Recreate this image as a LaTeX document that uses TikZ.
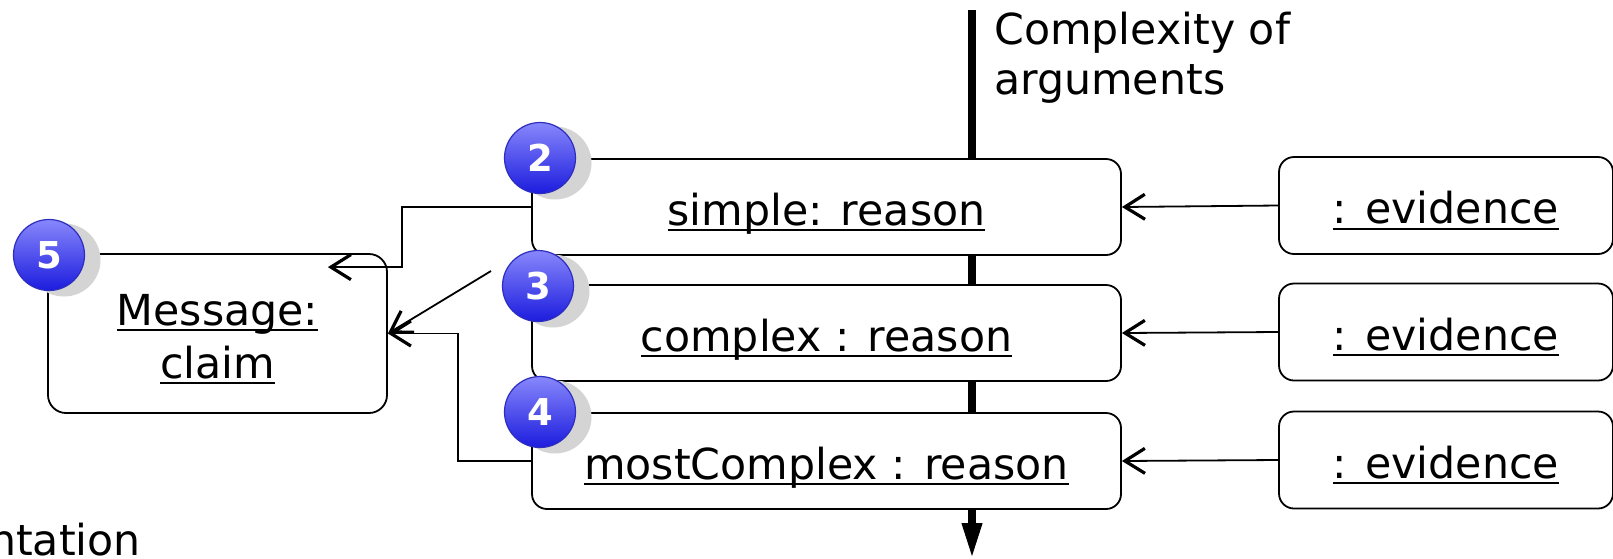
\documentclass[tikz,border=0pt]{standalone}
\usepackage{fontspec}
\setmainfont{DejaVu Sans}
\usetikzlibrary{arrows.meta,calc}
\newcommand\uln[1]{\setbox0\hbox{#1}\rlap{\rule[-6pt]{\wd0}{2pt}}\box0}
\definecolor{badgetop}{RGB}{135,135,252}
\definecolor{badgebot}{RGB}{28,28,222}
\definecolor{badgeline}{RGB}{45,45,190}
\definecolor{shadowgray}{RGB}{212,212,212}
\begin{document}
\begin{tikzpicture}[x=1pt,y=-1pt,
  every node/.style={font=\fontsize{42.7}{53}\selectfont, inner sep=0pt},
  objbox/.style={draw=black, line width=1.8pt, rounded corners=15pt, fill=white, text height=36pt, text depth=0pt},
  reasonbox/.style={objbox, minimum width=589pt, minimum height=96pt},
  evbox/.style={objbox, minimum width=334pt, minimum height=97pt},
  conn/.style={line width=1.8pt, -{Straight Barb[length=20pt,width=25pt,line width=3.2pt]}},
  badge/.style={circle, minimum size=71pt, top color=badgetop, bottom color=badgebot, draw=badgeline, line width=1.2pt, text=white, font=\fontsize{37}{37}\selectfont\bfseries},
  badgeshadow/.style={circle, minimum size=73pt, fill=shadowgray}
]
\useasboundingbox (0,0) rectangle (1613,558);
% axis
\coordinate (axtop) at (972,10);
\coordinate (axbot) at (972,556);
\draw[line width=8.5pt, -{Triangle[length=33pt,width=21pt,line width=1pt]}] (axtop) -- (axbot);
\node[anchor=base west, align=left, font=\fontsize{42.7}{50}\selectfont] (cx) at (994,94) {Complexity of\\arguments};
\node[anchor=base east] (nt) at (141,555) {ntation};
% boxes
\node[reasonbox] (r1) at (826.5,207) {\uln{simple: reason}};
\node[reasonbox] (r2) at (826.5,333) {\uln{complex : reason}};
\node[reasonbox] (r3) at (826.5,461) {\uln{mostComplex : reason}};
\node[evbox] (e1) at (1446,205.5) {\uln{: evidence}};
\node[evbox] (e2) at (1446,332) {\uln{: evidence}};
\node[evbox] (e3) at (1446,460) {\uln{: evidence}};
\node[draw=black, line width=1.8pt, rounded corners=18pt, fill=white, minimum width=339pt, minimum height=159pt, align=center, text height=89pt, text depth=0pt] (msg) at (217.5,333.5) {\uln{Message:}\\\uln{claim}};
% connectors
\draw[conn] (e1.west) -- (r1.east);
\draw[conn] (e2.west) -- (r2.east);
\draw[conn] (e3.west) -- (r3.east);
\coordinate (k1) at ($(msg.north east)+(-60,14)$);
\draw[conn] (r1.west) -- ++(-129,0) |- (k1);
\coordinate (d0) at (491,271);
\draw[conn] (d0) -- (msg.east);
\draw[conn] (r3.west) -- ++(-73,0) |- (msg.east);
% badges
\node[badgeshadow] (s2) at (555,163) {};
\node[badge] (b2) at (540,158) {2};
\node[badgeshadow] (s3) at (553,291) {};
\node[badge] (b3) at (538,286) {3};
\node[badgeshadow] (s4) at (555,417) {};
\node[badge] (b4) at (540,412) {4};
\node[badgeshadow] (s5) at (64,260) {};
\node[badge] (b5) at (49,255) {5};
\end{tikzpicture}
\end{document}
